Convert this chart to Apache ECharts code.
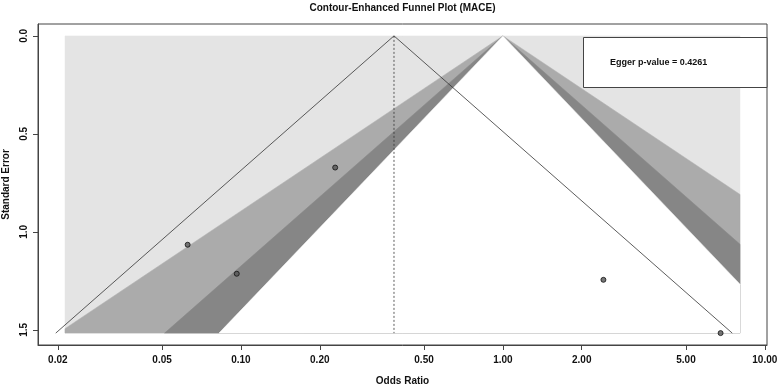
<!DOCTYPE html>
<html><head><meta charset="utf-8">
<script src="https://cdn.jsdelivr.net/npm/echarts@6/dist/echarts.min.js"></script>
<style>html,body{margin:0;padding:0;background:#fff}#c{width:777px;height:384px}</style>
</head><body><div id="c"></div>
<script>
// ---- data ----
const studyOR = [0.0626, 0.0964, 0.229, 2.42, 6.78];
const studySE = [1.066, 1.214, 0.672, 1.245, 1.517];
const pooledOR = 0.384;
const xTickLabels = [0.02, 0.05, 0.10, 0.20, 0.50, 1.00, 2.00, 5.00, 10.00];
const yTickLabels = [0.0, 0.5, 1.0, 1.5];
const contourZ = [2.576, 1.96, 1.645];           // p = 0.01, 0.05, 0.10
const contourColors = ['#ABABAB', '#868686', '#FFFFFF'];
const bgColor = '#E4E4E4';
const shadeRangeOR = [0.0213, 8.04];
const eggerText = 'Egger p-value = 0.4261';
const titleText = 'Contour-Enhanced Funnel Plot (MACE)';

const FONT = "'Liberation Sans Narrow','Arial Narrow','Liberation Sans',Arial,sans-serif";
const L10 = v => Math.log10(v);
const seMax = Math.max(...studySE);
const lo = L10(shadeRangeOR[0]), hi = L10(shadeRangeOR[1]);
const dx = hi - lo;
const xMin = lo - 0.04 * dx, xMax = hi + 0.04 * dx;
const yMin = -0.04 * seMax, yMax = seMax * 1.04;

function clipX(poly, bound, keepGreater) {
  const out = [];
  for (let i = 0; i < poly.length; i++) {
    const a = poly[i], b = poly[(i + 1) % poly.length];
    const ina = keepGreater ? a[0] >= bound : a[0] <= bound;
    const inb = keepGreater ? b[0] >= bound : b[0] <= bound;
    if (ina) out.push(a);
    if (ina !== inb) {
      const t = (bound - a[0]) / (b[0] - a[0]);
      out.push([bound, a[1] + t * (b[1] - a[1])]);
    }
  }
  return out;
}
const polys = [{pts: [[lo, 0], [hi, 0], [hi, seMax], [lo, seMax]], color: bgColor}];
contourZ.forEach((z, i) => {
  const w = z * seMax / Math.LN10;
  let p = [[0, 0], [-w, seMax], [w, seMax]];
  p = clipX(p, lo, true); p = clipX(p, hi, false);
  polys.push({pts: p, color: contourColors[i]});
});

const pLog = L10(pooledOR);
const half = 1.96 * seMax / Math.LN10;
const funnelLine = [[pLog - half, seMax], [pLog, 0], [pLog + half, seMax]];
const refLine = [[pLog, 0], [pLog, seMax]];
const pts = studyOR.map((o, i) => [L10(o), studySE[i]]);

const chart = echarts.init(document.getElementById('c'), null, {renderer: 'canvas'});
chart.setOption({
  animation: false,
  backgroundColor: '#fff',
  grid: {left: 38, right: 10, top: 24, bottom: 39, outerBoundsMode: 'none', containLabel: false,
    show: true, borderColor: '#444', borderWidth: 1, backgroundColor: 'transparent'},
  xAxis: {
    type: 'value', min: xMin, max: xMax,
    name: 'Odds Ratio', nameLocation: 'middle', nameGap: 31,
    nameTextStyle: {fontFamily: FONT, fontWeight: 'bold', fontSize: 10, color: '#111'},
    axisLine: {show: true, onZero: false, lineStyle: {color: '#444', width: 1}},
    axisTick: {show: true, length: 5, customValues: xTickLabels.map(L10), lineStyle: {color: '#444'}},
    axisLabel: {customValues: xTickLabels.map(L10), margin: 10, fontFamily: FONT, fontWeight: 'bold', fontSize: 10, color: '#111',
      formatter: v => Math.pow(10, v).toFixed(2)},
    splitLine: {show: false}
  },
  yAxis: {
    type: 'value', inverse: true, min: yMin, max: yMax,
    name: 'Standard Error', nameLocation: 'middle', nameGap: 25, nameRotate: 90,
    nameTextStyle: {fontFamily: FONT, fontWeight: 'bold', fontSize: 10, color: '#111'},
    axisLine: {show: true, onZero: false, lineStyle: {color: '#444', width: 1}},
    axisTick: {show: true, length: 5, customValues: yTickLabels, lineStyle: {color: '#444'}},
    axisLabel: {customValues: yTickLabels, rotate: 90, margin: 9, fontFamily: FONT, fontWeight: 'bold', fontSize: 10, color: '#111',
      formatter: v => v.toFixed(1)},
    splitLine: {show: false}
  },
  series: [
    {
      type: 'custom', silent: true, z: 1,
      data: polys.map((p, i) => [p.pts[0][0], p.pts[0][1], i]),
      renderItem: (params, api) => {
        const poly = polys[params.dataIndex];
        return {type: 'polygon', shape: {points: poly.pts.map(p => api.coord(p))},
          style: {fill: poly.color, stroke: poly.color, lineWidth: 0.5}};
      }
    },
    {type: 'line', data: funnelLine, symbol: 'none', z: 3, silent: true,
      lineStyle: {color: '#333', width: 0.8}},
    {type: 'line', data: refLine, symbol: 'none', z: 3, silent: true,
      lineStyle: {color: '#333', width: 0.8, type: [2, 2]}},
    {type: 'scatter', data: pts, symbol: 'circle', symbolSize: 5, z: 4, silent: true,
      itemStyle: {color: '#555', borderColor: '#111', borderWidth: 1}}
  ],
  graphic: [
    {type: 'text', x: 402.5, y: 3, style: {text: titleText, fontFamily: FONT, fontWeight: 'bold', fontSize: 10, fill: '#111', textAlign: 'center'}},
    {type: 'rect', shape: {x: 583.5, y: 37.5, width: 183.5, height: 50}, z: 10,
      style: {fill: '#fff', stroke: '#444', lineWidth: 1}},
    {type: 'text', x: 610, y: 63, z: 11, style: {text: eggerText, fontFamily: FONT, fontWeight: 'bold', fontSize: 9, fill: '#111', textVerticalAlign: 'middle'}}
  ]
});
</script></body></html>
